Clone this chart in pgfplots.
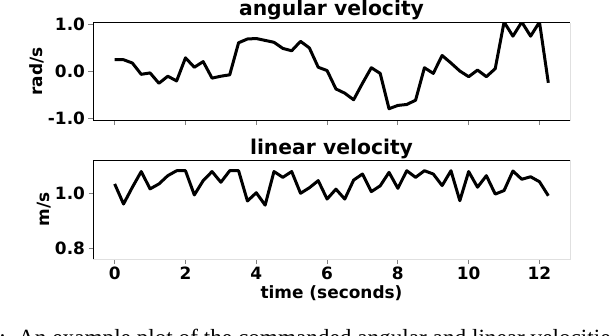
\documentclass[border=0pt]{standalone}
\usepackage{fontspec}
\setmainfont{DejaVu Sans}
\newfontfamily\capfont{Liberation Serif}
\usepackage{pgfplots}
\usepackage{pgfplotstable}
\usetikzlibrary{calc}
\pgfplotsset{compat=1.18}
\definecolor{spinegray}{gray}{0.88}
\definecolor{tickgray}{gray}{0.5}

\pgfplotstableread{
t w
0 0.25
0.25 0.25
0.5 0.18
0.75 -0.06
1.0 -0.03
1.25 -0.25
1.5 -0.1
1.75 -0.2
2.0 0.29
2.25 0.09
2.5 0.21
2.75 -0.14
3.0 -0.1
3.25 -0.07
3.5 0.61
3.75 0.69
4.0 0.7
4.25 0.66
4.5 0.62
4.75 0.49
5.0 0.44
5.25 0.64
5.5 0.5
5.75 0.09
6.0 0.02
6.25 -0.37
6.5 -0.46
6.75 -0.6
7.0 -0.25
7.25 0.08
7.5 -0.04
7.75 -0.79
8.0 -0.72
8.25 -0.7
8.5 -0.61
8.75 0.08
9.0 -0.04
9.25 0.34
9.5 0.18
9.75 0.01
10.0 -0.11
10.25 0.03
10.5 -0.11
10.75 0.06
11.0 1.05
11.25 0.75
11.5 1.05
11.75 0.75
12.0 1.05
12.25 -0.24
}\angtable

\pgfplotstableread{
t v
0 1.034
0.25 0.961
0.5 1.022
0.75 1.079
1.0 1.016
1.25 1.034
1.5 1.064
1.75 1.082
2.0 1.082
2.25 0.994
2.5 1.046
2.75 1.079
3.0 1.04
3.25 1.082
3.5 1.082
3.75 0.972
4.0 1.002
4.25 0.957
4.5 1.079
4.75 1.058
5.0 1.079
5.25 1.0
5.5 1.02
5.75 1.046
6.0 0.979
6.25 1.015
6.5 0.979
6.75 1.048
7.0 1.07
7.25 1.006
7.5 1.027
7.75 1.076
8.0 1.018
8.25 1.082
8.5 1.058
8.75 1.082
9.0 1.07
9.25 1.028
9.5 1.082
9.75 0.973
10.0 1.079
10.25 1.022
10.5 1.064
10.75 0.997
11.0 1.01
11.25 1.081
11.5 1.051
11.75 1.06
12.0 1.042
12.25 0.991
}\lintable

\pgfplotsset{
  myaxis/.style={
    scale only axis, width=477bp,
    xmin=-0.6125, xmax=12.8625,
    axis line style={draw=none},
    tick align=outside, xtick pos=bottom, ytick pos=left,
    major tick length=4.5bp,
    tick style={tickgray, line width=0.8bp},
    xtick={0,2,4,6,8,10,12},
    ticklabel style={font=\fontsize{17}{17}\selectfont\bfseries},
    title style={font=\fontsize{20.4}{20.4}\selectfont\bfseries, at={(0.5,1)}, anchor=base},
    label style={font=\fontsize{17}{17}\selectfont\bfseries},
    clip mode=individual,
  }
}

\begin{document}
\begin{tikzpicture}
\useasboundingbox (0,0) rectangle (610bp,-336bp);
\begin{axis}[myaxis,
  at={(93bp,-22.5bp)}, anchor=north west, height=98bp,
  ymin=-1.04, ymax=1.04,
  ytick={-1,0,1}, yticklabels={-1.0,0.0,1.0},
  xticklabels={},
  title={angular velocity},
  title style={yshift=1.5bp},
  ylabel={rad/s},
  ylabel style={at={($(rel axis cs:0,0.5)+(-56bp,0)$)}, anchor=center},
]
\addplot[black, line width=3bp, line join=round] table[x=t, y=w] {\angtable};
\draw[black, line width=1bp] (rel axis cs:0,0) -- (rel axis cs:0,1) -- (rel axis cs:1,1);
\draw[black, line width=1bp] (rel axis cs:0,0) -- (rel axis cs:1,0);
\draw[spinegray, line width=1bp] (rel axis cs:1,0) -- (rel axis cs:1,1);
\end{axis}

\begin{axis}[myaxis,
  at={(93bp,-160bp)}, anchor=north west, height=99bp,
  ymin=0.761, ymax=1.121,
  ytick={0.8,1.0}, yticklabels={0.8,1.0},
  xticklabels={0,2,4,6,8,10,12},
  title={linear velocity},
  title style={yshift=-0.5bp},
  ylabel={m/s},
  ylabel style={at={($(rel axis cs:0,0.5)+(-49bp,0)$)}, anchor=center},
  xlabel={time (seconds)},
  xlabel style={at={(rel axis cs:0.5,0)}, anchor=base, yshift=-39bp},
]
\addplot[black, line width=3bp, line join=round] table[x=t, y=v] {\lintable};
\draw[black, line width=1bp] (rel axis cs:0,0) -- (rel axis cs:0,1) -- (rel axis cs:1,1);
\draw[spinegray, line width=1bp] (rel axis cs:0,0) -- (rel axis cs:1,0) -- (rel axis cs:1,1);
\end{axis}

\node[anchor=base east, inner sep=0pt, font=\capfont\fontsize{23.3}{23.3}\selectfont] at (6bp,-345bp) {Figure 1:};
\node[anchor=base west, inner sep=0pt, font=\capfont\fontsize{23.3}{23.3}\selectfont] at (18bp,-345bp) {An example plot of the commanded angular and linear velocities for the robot};
\end{tikzpicture}
\end{document}
